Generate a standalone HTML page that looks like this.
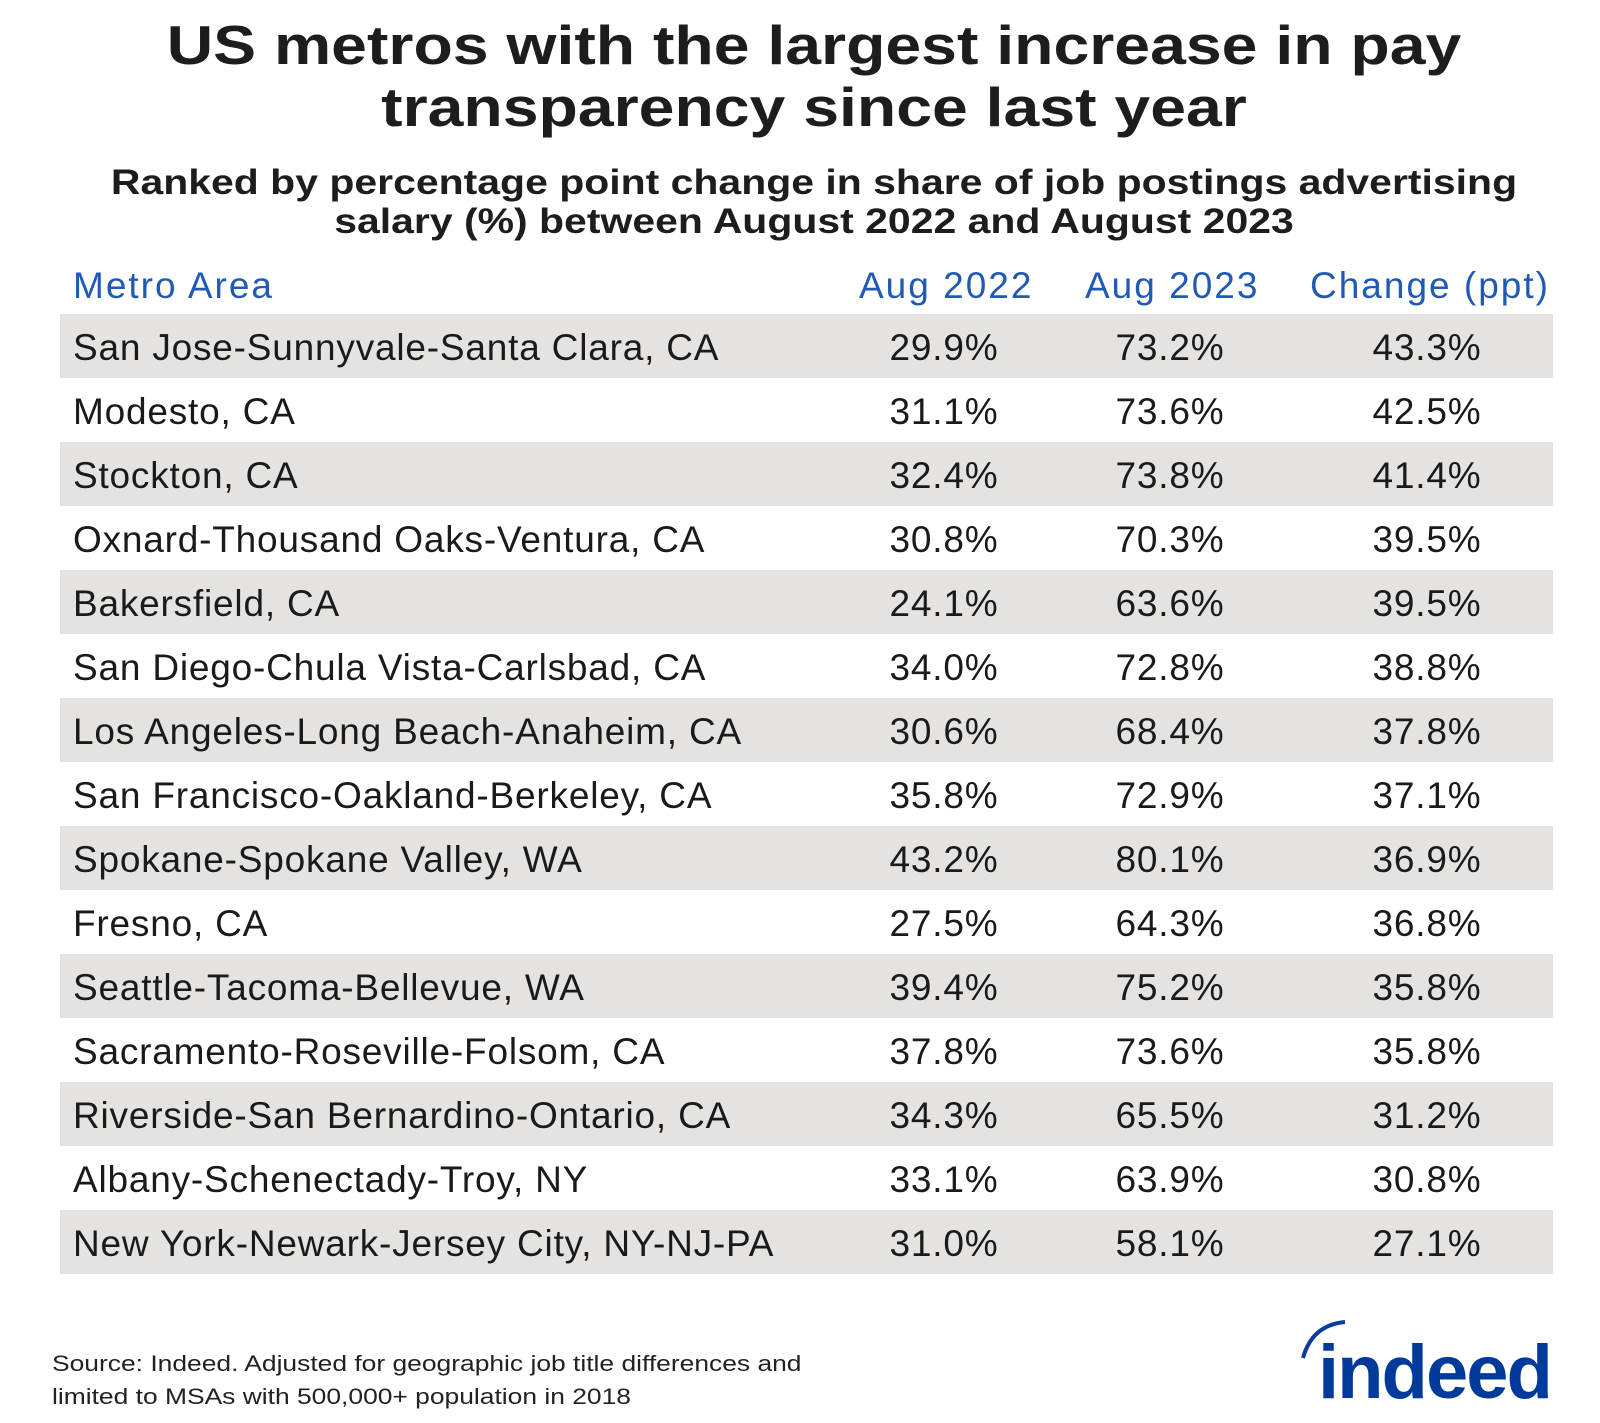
<!DOCTYPE html>
<html><head><meta charset="utf-8"><style>
body{margin:0;width:1600px;height:1423px;background:#fff;font-family:"Liberation Sans",sans-serif;color:#1d1d1d;position:relative;overflow:hidden}
.t{position:absolute;left:14px;width:1600px;text-align:center;font-weight:bold;white-space:nowrap;transform-origin:800px 0}
.h{position:absolute;color:#1f5ab5;font-size:37px;top:265px;white-space:nowrap;letter-spacing:2px}
.row{position:absolute;left:60px;width:1493px;height:64px}
.row.g{background:#e4e3e2}
.row span{position:absolute;top:13px;font-size:37px;white-space:nowrap;color:#1a1a1a}
.c1{left:13px;letter-spacing:0.8px}.c2{left:824px;width:120px;text-align:center;letter-spacing:0.8px}.c3{left:1050px;width:120px;text-align:center;letter-spacing:0.8px}.c4{left:1307px;width:120px;text-align:center;letter-spacing:0.8px}
.src{position:absolute;left:52px;font-size:22px;color:#222;white-space:nowrap;transform:scaleX(1.2);transform-origin:0 0}
</style></head><body>
<div class="t" style="top:14px;font-size:55px;line-height:62px;transform:scaleX(1.17)">US metros with the largest increase in pay<br>transparency since last year</div>
<div class="t" style="top:163px;font-size:35px;line-height:39px;transform:scaleX(1.17)">Ranked by percentage point change in share of job postings advertising<br>salary (%) between August 2022 and August 2023</div>
<div class="h" style="left:73px">Metro Area</div>
<div class="h" style="left:859px">Aug 2022</div>
<div class="h" style="left:1085px">Aug 2023</div>
<div class="h" style="left:1310px">Change (ppt)</div>
<div class="row g" style="top:314px"><span class="c1">San Jose-Sunnyvale-Santa Clara, CA</span><span class="c2">29.9%</span><span class="c3">73.2%</span><span class="c4">43.3%</span></div>
<div class="row" style="top:378px"><span class="c1">Modesto, CA</span><span class="c2">31.1%</span><span class="c3">73.6%</span><span class="c4">42.5%</span></div>
<div class="row g" style="top:442px"><span class="c1">Stockton, CA</span><span class="c2">32.4%</span><span class="c3">73.8%</span><span class="c4">41.4%</span></div>
<div class="row" style="top:506px"><span class="c1">Oxnard-Thousand Oaks-Ventura, CA</span><span class="c2">30.8%</span><span class="c3">70.3%</span><span class="c4">39.5%</span></div>
<div class="row g" style="top:570px"><span class="c1">Bakersfield, CA</span><span class="c2">24.1%</span><span class="c3">63.6%</span><span class="c4">39.5%</span></div>
<div class="row" style="top:634px"><span class="c1">San Diego-Chula Vista-Carlsbad, CA</span><span class="c2">34.0%</span><span class="c3">72.8%</span><span class="c4">38.8%</span></div>
<div class="row g" style="top:698px"><span class="c1">Los Angeles-Long Beach-Anaheim, CA</span><span class="c2">30.6%</span><span class="c3">68.4%</span><span class="c4">37.8%</span></div>
<div class="row" style="top:762px"><span class="c1">San Francisco-Oakland-Berkeley, CA</span><span class="c2">35.8%</span><span class="c3">72.9%</span><span class="c4">37.1%</span></div>
<div class="row g" style="top:826px"><span class="c1">Spokane-Spokane Valley, WA</span><span class="c2">43.2%</span><span class="c3">80.1%</span><span class="c4">36.9%</span></div>
<div class="row" style="top:890px"><span class="c1">Fresno, CA</span><span class="c2">27.5%</span><span class="c3">64.3%</span><span class="c4">36.8%</span></div>
<div class="row g" style="top:954px"><span class="c1">Seattle-Tacoma-Bellevue, WA</span><span class="c2">39.4%</span><span class="c3">75.2%</span><span class="c4">35.8%</span></div>
<div class="row" style="top:1018px"><span class="c1">Sacramento-Roseville-Folsom, CA</span><span class="c2">37.8%</span><span class="c3">73.6%</span><span class="c4">35.8%</span></div>
<div class="row g" style="top:1082px"><span class="c1">Riverside-San Bernardino-Ontario, CA</span><span class="c2">34.3%</span><span class="c3">65.5%</span><span class="c4">31.2%</span></div>
<div class="row" style="top:1146px"><span class="c1">Albany-Schenectady-Troy, NY</span><span class="c2">33.1%</span><span class="c3">63.9%</span><span class="c4">30.8%</span></div>
<div class="row g" style="top:1210px"><span class="c1">New York-Newark-Jersey City, NY-NJ-PA</span><span class="c2">31.0%</span><span class="c3">58.1%</span><span class="c4">27.1%</span></div>
<div class="src" style="top:1351px">Source: Indeed. Adjusted for geographic job title differences and</div>
<div class="src" style="top:1384px">limited to MSAs with 500,000+ population in 2018</div>
<svg style="position:absolute;left:1300px;top:1320px" width="270" height="90">
<path d="M3 38 Q12 5 45 2" stroke="#0b3aa0" stroke-width="4" fill="none"/>
<text x="18" y="78" font-family="Liberation Sans,sans-serif" font-weight="bold" font-size="76" fill="#003a9b" letter-spacing="-2">indeed</text>
</svg>
</body></html>
